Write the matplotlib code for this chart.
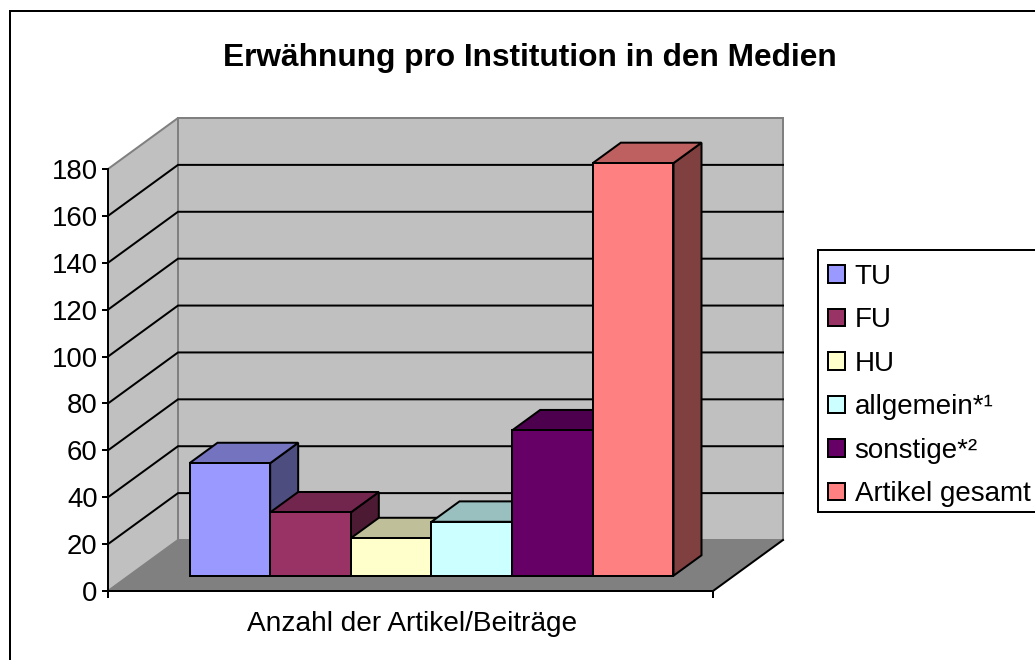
import matplotlib
matplotlib.use("Agg")
import matplotlib.pyplot as plt
from matplotlib.patches import Patch, Polygon, Rectangle
from matplotlib.colors import to_rgb

plt.rcParams['font.family'] = ['Liberation Sans', 'DejaVu Sans']

# daten
titel = "Erwähnung pro Institution in den Medien"
kategorie = "Anzahl der Artikel/Beiträge"
namen = ["TU", "FU", "HU", "allgemein*¹", "sonstige*²", "Artikel gesamt"]
werte = [48, 27, 16, 23, 62, 176]
farben = ["#9999FF", "#993366", "#FFFFCC", "#CCFFFF", "#660066", "#FF8080"]
y_ticks = [0, 20, 40, 60, 80, 100, 120, 140, 160, 180]

B, H = 1035, 660
PX = 0.72  # 1 px in pt bei dpi 100
SCHRIFT = 28 * PX

fig = plt.figure(figsize=(B / 100, H / 100), dpi=100)

# vorderkante der grafik in pixeln: x 108..713, y 591..169
ax = fig.add_axes([108 / B, 1 - 591 / H, 605 / B, 422 / H])
ax.set_xlim(0, 1)
ax.set_ylim(0, 180)
ax.patch.set_visible(False)

# schraege projektion: tiefe 0..1 wird in achsen-einheiten verschoben
tiefe_x = 70 / 605
tiefe_y = 51 / 422 * 180


def proj(x, v, d):
    return (x + d * tiefe_x, v + d * tiefe_y)


def flaeche(punkte, farbe, rand="black", lw=2.0, z=1):
    ax.add_patch(Polygon([proj(*p) for p in punkte], closed=True, facecolor=farbe,
                         edgecolor=rand, linewidth=lw * PX, joinstyle="miter",
                         clip_on=False, zorder=z))


def dunkler(farbe, f):
    return tuple(c * f for c in to_rgb(farbe))


# boden und waende
flaeche([(0, 0, 0), (1, 0, 0), (1, 0, 1), (0, 0, 1)], "#808080", rand="none", z=1)
flaeche([(0, 0, 1), (1, 0, 1), (1, 180, 1), (0, 180, 1)], "#C0C0C0", rand="#808080", z=1)
flaeche([(0, 0, 0), (0, 0, 1), (0, 180, 1), (0, 180, 0)], "#C0C0C0", rand="#808080", z=1)

# gitterlinien
for v in y_ticks[1:-1]:
    xs, ys = zip(proj(0, v, 0), proj(0, v, 1), proj(1, v, 1))
    ax.plot(xs, ys, color="black", lw=2.0 * PX, clip_on=False, zorder=2,
            solid_joinstyle="miter")
xs, ys = zip(proj(1, 0, 0), proj(1, 0, 1))
ax.plot(xs, ys, color="black", lw=2.0 * PX, clip_on=False, zorder=2)

# balken von links nach rechts, tiefe 0.3 bis 0.7
rand_x = 0.1
breite = (1 - 2 * rand_x) / len(werte)
d0, d1 = 0.3, 0.7
for i, (w, f) in enumerate(zip(werte, farben)):
    x0 = rand_x + i * breite
    x1 = x0 + breite
    z = 3 + i
    flaeche([(x1, 0, d0), (x1, 0, d1), (x1, w, d1), (x1, w, d0)], dunkler(f, 0.5), z=z)
    flaeche([(x0, w, d0), (x1, w, d0), (x1, w, d1), (x0, w, d1)], dunkler(f, 0.75), z=z)
    flaeche([(x0, 0, d0), (x1, 0, d0), (x1, w, d0), (x0, w, d0)], f, z=z)

# achsen
for s in ["top", "right"]:
    ax.spines[s].set_visible(False)
ax.spines["left"].set_linewidth(2.0 * PX)
ax.spines["bottom"].set_linewidth(2.0 * PX)
ax.spines["left"].set_zorder(20)
ax.spines["bottom"].set_zorder(20)
ax.set_yticks(y_ticks)
ax.set_xticks([0, 1], ["", ""])
ax.tick_params(axis="y", length=6 * PX, width=2.0 * PX, pad=4.5 * PX, labelsize=27.5 * PX)
ax.tick_params(axis="x", length=7 * PX, width=2.0 * PX)

fig.text(412 / B, 1 - 624 / H, kategorie, fontsize=SCHRIFT, ha="center", va="center")
fig.text(530 / B, 1 - 58 / H, titel, fontsize=31.7 * PX, fontweight="bold",
         ha="center", va="center")

# legende, kasten extra damit er rechts aus dem bild laufen kann
fig.add_artist(Rectangle((818 / B, 1 - 512 / H), 0.3, 262 / H, transform=fig.transFigure,
                         facecolor="white", edgecolor="black", linewidth=2.0 * PX))
griffe = [Patch(facecolor=f, edgecolor="black", linewidth=2.0 * PX) for f in farben]
fig.legend(griffe, namen, loc="upper left", bbox_to_anchor=(818 / B, 1 - 254 / H),
           bbox_transform=fig.transFigure, fontsize=27.7 * PX, frameon=False,
           borderpad=0.36, borderaxespad=0, labelspacing=0.63, handlelength=0.6,
           handleheight=0.6, handletextpad=0.36)

# rahmen laeuft rechts und unten aus dem bild
fig.add_artist(Rectangle((10 / B, -0.2), 1.2, 1 - 11 / H + 0.2, transform=fig.transFigure,
                         facecolor="none", edgecolor="black", linewidth=2.0 * PX))

fig.savefig("out.png", dpi=100)
